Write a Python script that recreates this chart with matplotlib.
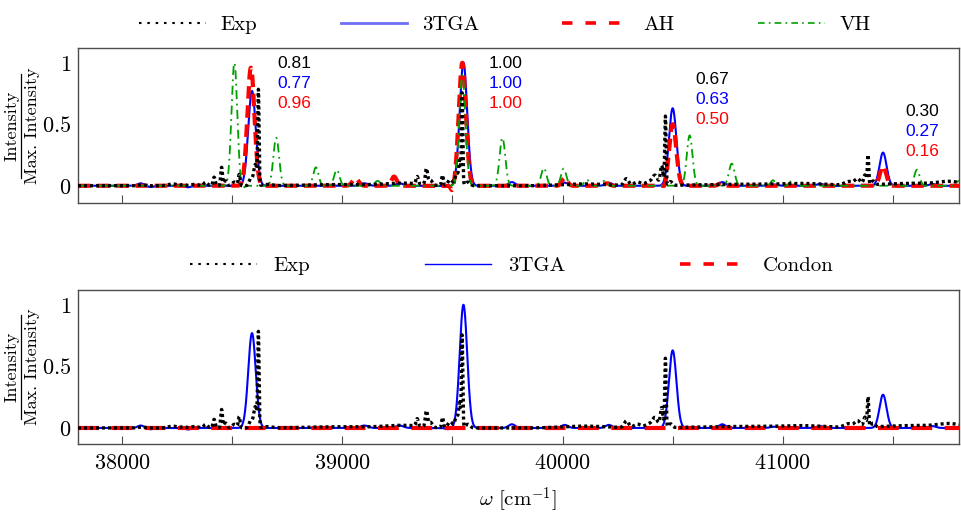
import numpy as np
import matplotlib
matplotlib.use("Agg")
import matplotlib.pyplot as plt
from matplotlib.lines import Line2D

plt.rcParams["font.family"] = "serif"
plt.rcParams["font.serif"] = ["cmr10", "DejaVu Serif"]
plt.rcParams["mathtext.fontset"] = "cm"
plt.rcParams["axes.unicode_minus"] = False

# ---------------- data ----------------
x_range = (37800, 41800)
x_ticks = [38000, 39000, 40000, 41000]
x_ticklabels = ["38000", "39000", "40000", "41000"]
x_minor = [38500, 39500, 40500, 41500]
y_ticks = [0, 0.5, 1]
y_ticklabels = ["0", "0.5", "1"]

# Experimental spectrum: line positions, heights, widths (sigma, cm^-1)
exp_pos = [38090, 38230, 38280, 38330, 38380, 38418, 38452, 38470, 38510, 38532,
           38585, 38605, 38619, 38660, 39000, 39280, 39340, 39382, 39400, 39455,
           39490, 39520, 39533, 39544, 39570, 40100, 40290, 40340, 40390, 40420,
           40450, 40467, 40490, 40800, 41100, 41300, 41340, 41373, 41387, 41410,
           41600, 41760]
exp_amp = [0.008, 0.015, 0.010, 0.012, 0.030, 0.070, 0.150, 0.040, 0.030, 0.090,
           0.060, 0.170, 0.760, 0.010, 0.010, 0.020, 0.060, 0.130, 0.040, 0.085,
           0.050, 0.100, 0.180, 0.750, 0.030, 0.015, 0.055, 0.030, 0.030, 0.080,
           0.160, 0.560, 0.030, 0.012, 0.015, 0.030, 0.050, 0.080, 0.240, 0.030,
           0.020, 0.025]
exp_sig = [15, 20, 10, 15, 8, 5, 4, 6, 10, 4,
           8, 7, 3, 20, 150, 80, 5, 5, 8, 4,
           10, 8, 4, 3, 10, 100, 10, 15, 15, 12,
           6, 3, 8, 200, 100, 20, 12, 6, 3, 8,
           150, 50]

# 3TGA simulation
tga_pos = [38085, 38130, 38300, 38590, 39100, 39260, 39480, 39550, 39770, 40010,
           40210, 40500, 40725, 40960, 41170, 41455, 41680]
tga_amp = [0.020, -0.010, -0.012, 0.770, 0.020, 0.020, -0.010, 1.000, 0.030, 0.025,
           0.025, 0.630, 0.030, 0.010, 0.015, 0.270, 0.015]
tga_sig = [14, 14, 14, 17, 17, 17, 12, 17, 15, 15, 15, 17, 15, 17, 17, 16, 15]

# AH simulation
ah_pos = [38585, 39060, 39235, 39500, 39545, 40010, 40200, 40465, 40500, 40720, 41455]
ah_amp = [0.960, 0.060, 0.075, -0.050, 1.000, 0.065, 0.020, -0.030, 0.500, 0.020, 0.160]
ah_sig = [16, 14, 12, 7, 16, 12, 12, 7, 16, 12, 14]

# VH simulation
vh_pos = [38510, 38545, 38700, 38880, 38975, 39160, 39545, 39727, 39915, 40005,
          40110, 40190, 40577, 40768, 40955, 41040, 41609, 41800]
vh_amp = [1.000, -0.035, 0.390, 0.150, 0.130, 0.040, 0.900, 0.390, 0.145, 0.140,
          0.050, 0.040, 0.410, 0.180, 0.045, 0.040, 0.130, 0.040]
vh_sig = [13, 7, 13, 12, 12, 12, 14, 13, 12, 12, 11, 11, 13, 13, 10, 10, 12, 12]

# Condon simulation (flat at zero in this window)
condon_pos = []
condon_amp = []
condon_sig = []

# relative intensity annotations
ann_x = [38705, 39664, 40605, 41555]
ann_y = [0.995, 0.995, 0.86, 0.605]
ann_exp = ["0.81", "1.00", "0.67", "0.30"]
ann_tga = ["0.77", "1.00", "0.63", "0.27"]
ann_ah = ["0.96", "1.00", "0.50", "0.16"]

# ---------------- helpers ----------------
w = np.linspace(x_range[0], x_range[1], 8001)


def spectrum(pos, amp, sig):
    y = np.zeros_like(w)
    for p, a, s in zip(pos, amp, sig):
        y += a * np.exp(-0.5 * ((w - p) / s) ** 2)
    return y


y_exp = spectrum(exp_pos, exp_amp, exp_sig)
y_tga = spectrum(tga_pos, tga_amp, tga_sig)
y_ah = spectrum(ah_pos, ah_amp, ah_sig)
y_vh = spectrum(vh_pos, vh_amp, vh_sig)
y_condon = spectrum(condon_pos, condon_amp, condon_sig)

BLUE = "#0000ff"
RED = "#ff0000"
GREEN = "#00a000"
SPINE = "#4d4d4d"

W, H = 961, 517
fig = plt.figure(figsize=(W / 100, H / 100), dpi=100)
ax1 = fig.add_axes([78 / W, 1 - 203 / H, (959 - 78) / W, (203 - 48) / H])
ax2 = fig.add_axes([78 / W, 1 - 444 / H, (959 - 78) / W, (444 - 290) / H])

# top panel
ax1.plot(w, y_tga, color=BLUE, lw=1.5, zorder=2)
ax1.plot(w, y_ah, color=RED, lw=3.0, ls=(0, (3.0, 1.6)), zorder=3)
ax1.plot(w, y_vh, color=GREEN, lw=1.3, ls=(0, (5, 2.5, 1, 2.5)), zorder=4)
ax1.plot(w, y_exp, color="black", lw=2.4, ls=(0, (0.9, 0.9)), zorder=5)

# bottom panel
ax2.plot(w, y_tga, color=BLUE, lw=1.5, zorder=2)
ax2.plot(w, y_condon, color=RED, lw=3.0, ls=(0, (5, 3)), zorder=3)
ax2.plot(w, y_exp, color="black", lw=2.4, ls=(0, (0.9, 0.9)), zorder=5)

for ax, ylo in ((ax1, -0.14), (ax2, -0.13)):
    ax.set_xlim(*x_range)
    ax.set_ylim(ylo, 1.12)
    ax.set_xticks(x_ticks)
    ax.set_xticks(x_minor, minor=True)
    ax.set_yticks(y_ticks)
    ax.set_yticklabels(["$%s$" % t for t in y_ticklabels])
    ax.tick_params(axis="x", which="both", direction="in", length=6, width=0.8,
                   color=SPINE, top=False, labelsize=16, pad=7)
    ax.tick_params(axis="y", which="both", length=0, labelsize=16, pad=5)
    for s in ax.spines.values():
        s.set_color(SPINE)
        s.set_linewidth(1.0)

ax1.set_xticklabels([])
ax2.set_xticklabels(["$%s$" % t for t in x_ticklabels])
fig.text(518 / W, 1 - 500 / H, r"$\omega\ [\mathrm{cm}^{-1}]$", fontsize=15,
         ha="center", va="center")

# y-axis label drawn as a stacked fraction
BAR_X = 20.5
for yc in (125.5, 367):
    fig.text((BAR_X - 4) / W, 1 - yc / H, "Intensity", rotation=90, ha="center",
             va="baseline", rotation_mode="anchor", fontsize=13)
    fig.text((BAR_X + 4.5) / W, 1 - yc / H, "Max. Intensity", rotation=90, ha="center",
             va="top", rotation_mode="anchor", fontsize=13)
    fig.add_artist(Line2D([BAR_X / W, BAR_X / W], [1 - (yc - 52) / H, 1 - (yc + 52) / H],
                          transform=fig.transFigure, color="black", lw=0.9))

# annotations
for xa, ya, te, tt, ta in zip(ann_x, ann_y, ann_exp, ann_tga, ann_ah):
    for k, (t, c) in enumerate(((te, "black"), (tt, BLUE), (ta, RED))):
        ax1.text(xa, ya - k * 0.162, t, color=c, fontsize=12.5, family="Liberation Sans",
                 ha="left", va="center")

# legends
top_handles = [
    Line2D([], [], color="black", lw=1.5, ls=(0, (1.2, 2.8))),
    Line2D([], [], color="#6e6ef6", lw=2.0),
    Line2D([], [], color=RED, lw=2.6, ls=(0, (2.9, 3.6))),
    Line2D([], [], color=GREEN, lw=1.2, ls=(0, (4, 2.5, 1, 2.5))),
]
fig.legend(top_handles, ["Exp", "3TGA", "AH", "VH"], loc="center",
           bbox_to_anchor=(505 / W, 1 - 25 / H), ncol=4, frameon=False,
           fontsize=15, handlelength=3.2, handletextpad=0.7, columnspacing=4.0)

bot_handles = [
    Line2D([], [], color="black", lw=1.5, ls=(0, (1.2, 2.8))),
    Line2D([], [], color=BLUE, lw=1.0),
    Line2D([], [], color=RED, lw=2.6, ls=(0, (2.9, 3.6))),
]
fig.legend(bot_handles, ["Exp", "3TGA", "Condon"], loc="center",
           bbox_to_anchor=(512 / W, 1 - 266 / H), ncol=3, frameon=False,
           fontsize=15, handlelength=3.2, handletextpad=0.8, columnspacing=5.5)

fig.savefig("out.png", dpi=100)
